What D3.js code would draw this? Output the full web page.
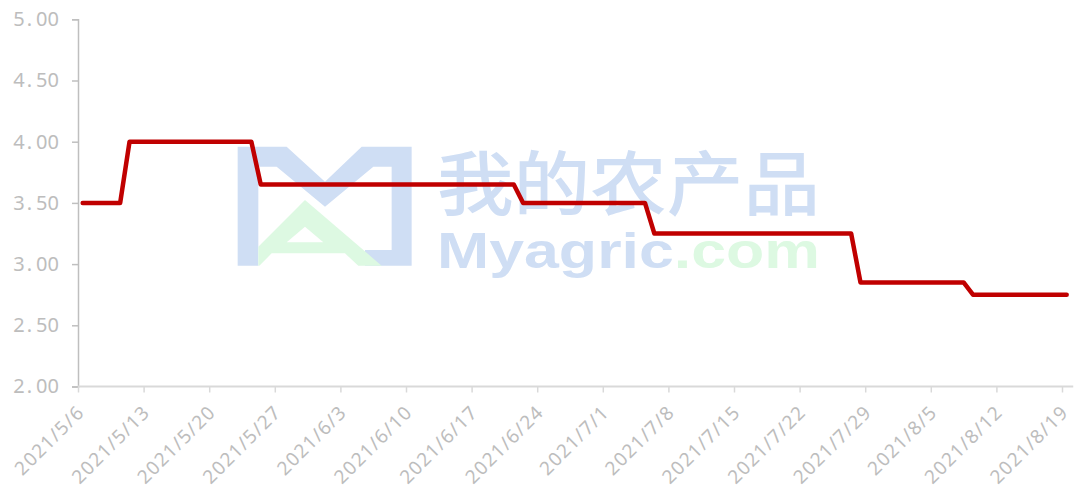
<!DOCTYPE html>
<html>
<head>
<meta charset="utf-8">
<script src="https://cdn.jsdelivr.net/npm/d3@7"></script>
<style>
  body { margin: 0; background: #fff; }
  svg { display: block; }
</style>
</head>
<body>
<svg width="1081" height="490"></svg>
<script>
// data ======================================================
// price steps (value holds between listed days)
var stepDates  = ["2021-05-06", "2021-05-10", "2021-05-11", "2021-05-24", "2021-05-25",
                  "2021-06-21", "2021-06-22", "2021-07-05", "2021-07-06", "2021-07-27",
                  "2021-07-28", "2021-08-08", "2021-08-09", "2021-08-19"];
var stepValues = [3.50, 3.50, 4.00, 4.00, 3.65,
                  3.65, 3.50, 3.50, 3.25, 3.25,
                  2.85, 2.85, 2.75, 2.75];
var xTickDates = ["2021-05-06", "2021-05-13", "2021-05-20", "2021-05-27", "2021-06-03",
                  "2021-06-10", "2021-06-17", "2021-06-24", "2021-07-01", "2021-07-08",
                  "2021-07-15", "2021-07-22", "2021-07-29", "2021-08-05", "2021-08-12",
                  "2021-08-19"];
var yTicks = [2.0, 2.5, 3.0, 3.5, 4.0, 4.5, 5.0];

// globals ===================================================
var svg = d3.select("svg");
var parse = d3.timeParse("%Y-%m-%d");
var DAY = 864e5;

var plotLeft = 78, plotRight = 1062, plotTop = 19.3, plotBottom = 386.5;

var x = d3.scaleTime()
    .domain([parse(xTickDates[0]), parse(xTickDates[xTickDates.length - 1])])
    .range([plotLeft, plotRight]);
var y = d3.scaleLinear().domain([2, 5]).range([plotBottom, plotTop]);

var data = stepDates.map(function(d, i) {
  return { date: parse(d), value: stepValues[i] };
});

// watermark ==================================================
var wm = svg.append("g").attr("class", "watermark");
// logo drawn in its own 3x box, placed at 225,135
var logo = wm.append("g").attr("transform", "translate(225,135) scale(0.3333)");
logo.append("path")
    .attr("fill", "#cfdef4")
    .attr("d", "M38,35 L185,35 L300,140 L410,35 L560,35 L560,392 L420,392 L420,345 L500,345 L500,95 L445,95 L300,215 L155,95 L100,95 L100,392 L38,392 Z");
logo.append("path")
    .attr("fill", "#ddf9e2")
    .attr("fill-rule", "evenodd")
    .attr("d", "M240,195 L470,392 L400,392 L360,355 L140,355 L103,392 L100,392 L100,335 Z " +
               "M240,275 L185,322 L295,322 Z");
wm.append("text")
    .attr("x", 437).attr("y", 210)
    .attr("textLength", 383).attr("lengthAdjust", "spacingAndGlyphs")
    .style("font-family", "'Noto Sans CJK SC', sans-serif")
    .style("font-size", "70px").style("font-weight", 500)
    .attr("fill", "#cfdef4")
    .text("我的农产品");
var url = wm.append("text")
    .attr("x", 437).attr("y", 268)
    .attr("textLength", 383).attr("lengthAdjust", "spacingAndGlyphs")
    .style("font-family", "'Liberation Sans', Arial, sans-serif")
    .style("font-size", "50px").style("font-weight", 700);
url.append("tspan").attr("fill", "#cfdef4").text("Myagric");
url.append("tspan").attr("fill", "#ddf9e2").text(".com");

// axes =======================================================
var fmt = d3.format(".2f");
var gy = svg.append("g").attr("transform", "translate(" + plotLeft + ",0)")
    .call(d3.axisLeft(y).tickValues(yTicks).tickSize(6).tickPadding(13).tickFormat(fmt));
gy.select(".domain").attr("stroke", "#bfbfbf").attr("stroke-width", 1.5);
gy.selectAll(".tick line").attr("stroke", "#bfbfbf").attr("stroke-width", 1.5);
gy.selectAll(".tick text").each(function(d) {
  // split so the decimal point gets the wide spacing seen in the chart
  var parts = fmt(d).split(".");
  var t = d3.select(this).text(null);
  t.append("tspan").text(parts[0]);
  t.append("tspan").attr("dx", 2).text(".");
  t.append("tspan").attr("dx", 4).text(parts[1]);
});
gy.selectAll(".tick text")
    .attr("fill", "#bdbdbd")
    .style("font-family", "'Noto Sans', 'Liberation Sans', sans-serif")
    .style("font-size", "20px");

var gx = svg.append("g").attr("transform", "translate(0," + plotBottom + ")")
    .call(d3.axisBottom(x).tickValues(xTickDates.map(parse)).tickSize(6)
      .tickFormat(d3.timeFormat("%Y/%-m/%-d")));
gx.select(".domain").remove();
gx.append("line")
    .attr("x1", plotLeft).attr("x2", x(new Date(+x.domain()[1] + 1.2 * DAY)))
    .attr("stroke", "#d9d9d9").attr("stroke-width", 2);
gx.selectAll(".tick line").attr("stroke", "#d9d9d9").attr("stroke-width", 1.5);
gx.selectAll(".tick text")
    .attr("y", 0).attr("dy", 0)
    .attr("text-anchor", "end")
    .attr("transform", "translate(7,27) rotate(-45)")
    .attr("fill", "#bdbdbd")
    .style("font-family", "'Noto Sans', 'Liberation Sans', sans-serif")
    .style("font-size", "19px")
    .style("letter-spacing", "1.2px");

// line =======================================================
// points sit in the middle of each day's slot
var line = d3.line()
    .x(function(d) { return x(new Date(+d.date + DAY / 2)); })
    .y(function(d) { return y(d.value); });

svg.append("path")
    .datum(data)
    .attr("fill", "none")
    .attr("stroke", "#c00000")
    .attr("stroke-width", 4.5)
    .attr("stroke-linejoin", "round")
    .attr("stroke-linecap", "round")
    .attr("d", line);
</script>
</body>
</html>
